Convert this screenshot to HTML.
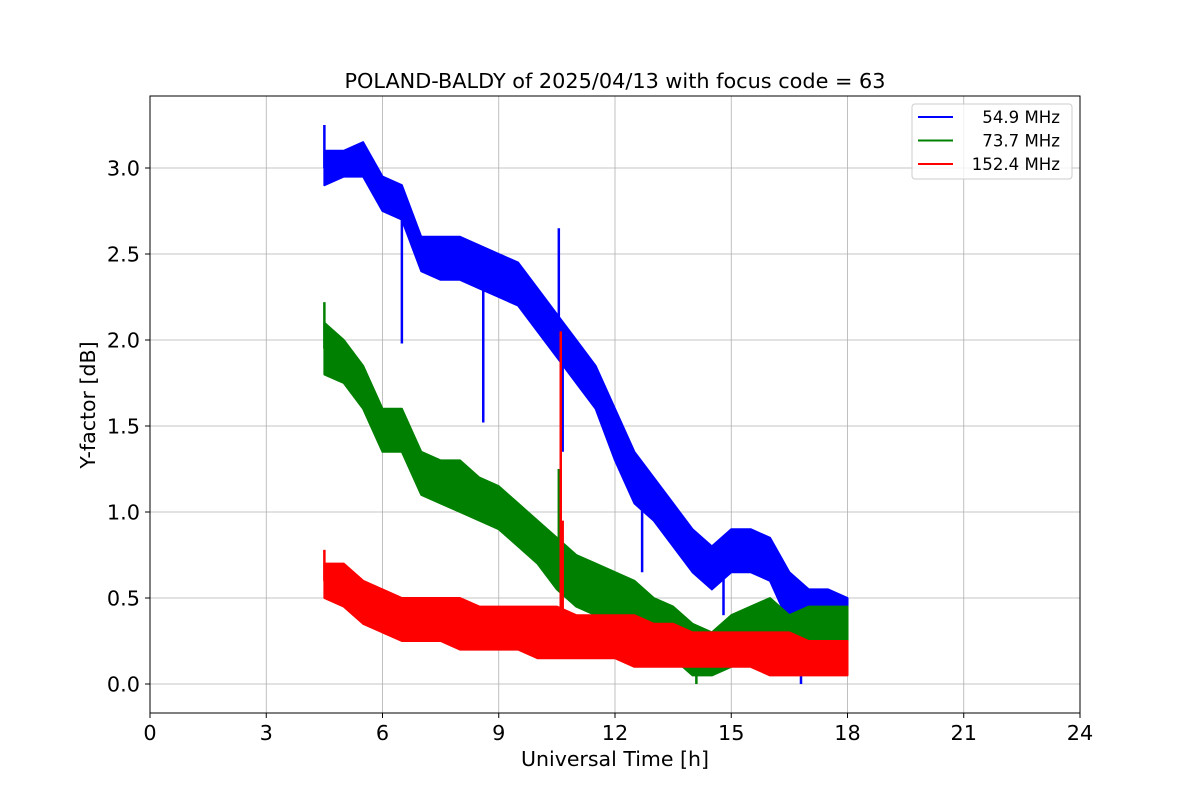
<!DOCTYPE html>
<html><head><meta charset="utf-8"><style>
body{margin:0;background:#fff;font-family:"Liberation Sans","DejaVu Sans",sans-serif}
svg text{font-family:"DejaVu Sans","Liberation Sans",sans-serif;fill:#000}
</style></head><body>
<svg id="chart" width="1200" height="800"></svg>
<script>
const times=[4.5,5,5.5,6,6.5,7,7.5,8,8.5,9,9.5,10,10.5,11,11.5,12,12.5,13,13.5,14,14.5,15,15.5,16,16.5,17,17.5,18];
const blueHi=[3.1,3.1,3.15,2.95,2.9,2.6,2.6,2.6,2.55,2.5,2.45,2.3,2.15,2.0,1.85,1.6,1.35,1.2,1.05,0.9,0.8,0.9,0.9,0.85,0.65,0.55,0.55,0.5];
const blueLo=[2.9,2.95,2.95,2.75,2.7,2.4,2.35,2.35,2.3,2.25,2.2,2.05,1.9,1.75,1.6,1.3,1.05,0.95,0.8,0.65,0.55,0.65,0.65,0.6,0.35,0.25,0.25,0.2];
const greenHi=[2.1,2.0,1.85,1.6,1.6,1.35,1.3,1.3,1.2,1.15,1.05,0.95,0.85,0.75,0.7,0.65,0.6,0.5,0.45,0.35,0.3,0.4,0.45,0.5,0.4,0.45,0.45,0.45];
const greenLo=[1.8,1.75,1.6,1.35,1.35,1.1,1.05,1.0,0.95,0.9,0.8,0.7,0.55,0.45,0.4,0.35,0.3,0.2,0.15,0.05,0.05,0.1,0.15,0.15,0.1,0.1,0.1,0.1];
const redHi=[0.7,0.7,0.6,0.55,0.5,0.5,0.5,0.5,0.45,0.45,0.45,0.45,0.45,0.4,0.4,0.4,0.4,0.35,0.35,0.3,0.3,0.3,0.3,0.3,0.3,0.25,0.25,0.25];
const redLo=[0.5,0.45,0.35,0.3,0.25,0.25,0.25,0.2,0.2,0.2,0.2,0.15,0.15,0.15,0.15,0.15,0.1,0.1,0.1,0.1,0.1,0.1,0.1,0.05,0.05,0.05,0.05,0.05];
const blueSpikeT=[4.5,6.5,8.6,10.55,10.65,12.7,14.8,16.8];
const blueSpikeV=[3.25,1.98,1.52,2.65,1.35,0.65,0.4,0.0];
const greenSpikeT=[4.5,10.55,10.6,14.1];
const greenSpikeV=[2.22,1.25,1.2,0.0];
const redSpikeT=[4.5,10.6,10.65];
const redSpikeV=[0.78,2.05,0.95];
const xTicks=[0,3,6,9,12,15,18,21,24];
const yTicks=[0,0.5,1,1.5,2,2.5,3];
const yLabels=["0.0","0.5","1.0","1.5","2.0","2.5","3.0"];
const legendLabels=["54.9 MHz","73.7 MHz","152.4 MHz"];

const L=150,R=1080,T=96,B=713;
const X=v=>L+(v/24)*(R-L);
const Y=v=>684-v*172;
const svg=document.getElementById('chart');
const NS='http://www.w3.org/2000/svg';
function mk(tag,attrs,parent){const e=document.createElementNS(NS,tag);for(const k in attrs)e.setAttribute(k,attrs[k]);(parent||svg).appendChild(e);return e;}

xTicks.forEach(t=>{
  const g=mk('line',{x1:X(t),x2:X(t),y1:T,y2:B,stroke:'#b0b0b0','stroke-width':0.8});
  
  
  const tk=mk('line',{x1:X(t),x2:X(t),y1:B,y2:B+5,stroke:'#000'});
  
  
  const tx=mk('text',{x:X(t),y:B+27,'font-size':20.8,'text-anchor':'middle'});
  tx.textContent=t;
  
  
});
yTicks.forEach((t,i)=>{
  const g=mk('line',{x1:L,x2:R,y1:Y(t),y2:Y(t),stroke:'#b0b0b0','stroke-width':0.8});
  
  
  const tk=mk('line',{x1:L-5,x2:L,y1:Y(t),y2:Y(t),stroke:'#000'});
  
  
  const tx=mk('text',{x:L-10,y:Y(t)+7.5,'font-size':20.8,'text-anchor':'end'});
  tx.textContent=yLabels[i];
  
  
});

function series(hi,lo,st,sv,color,name){
  let d='M'+times.map((t,i)=>X(t)+','+Y(hi[i])).join(' L');
  for(let i=times.length-1;i>=0;i--)d+=' L'+X(times[i])+','+Y(lo[i]);
  d+='Z';
  const p=mk('path',{d:d,fill:color,stroke:color,'stroke-width':2,'stroke-linejoin':'round'});
  
  
  st.forEach((t,i)=>{
    let k=0;while(k<times.length-1&&times[k+1]<=t)k++;
    const mid=(hi[k]+lo[k])/2;
    const s=mk('line',{x1:X(t),x2:X(t),y1:Y(mid),y2:Y(sv[i]),stroke:color,'stroke-width':2.5});
    
    
  });
}
series(blueHi,blueLo,blueSpikeT,blueSpikeV,'#0000ff','series-54-9mhz');
series(greenHi,greenLo,greenSpikeT,greenSpikeV,'#008000','series-73-7mhz');
series(redHi,redLo,redSpikeT,redSpikeV,'#ff0000','series-152-4mhz');

const fr=mk('rect',{x:L,y:T,width:R-L,height:B-T,fill:'none',stroke:'#000','stroke-width':1});



const title=mk('text',{x:(L+R)/2,y:88,'font-size':20.8,'text-anchor':'middle'});
title.textContent='POLAND-BALDY of 2025/04/13 with focus code = 63';


const xl=mk('text',{x:(L+R)/2,y:766,'font-size':20.5,'text-anchor':'middle'});
xl.textContent='Universal Time [h]';


const yl=mk('text',{x:0,y:0,'font-size':20.5,'text-anchor':'middle',transform:'translate(95,405) rotate(-90)'});
yl.textContent='Y-factor [dB]';



const lg=mk('rect',{x:912,y:104,width:160,height:75,rx:3,fill:'#fff','fill-opacity':0.8,stroke:'#ccc'});


const lc=['#0000ff','#008000','#ff0000'];
legendLabels.forEach((s,i)=>{
  const y=117+i*23.5;
  const ln=mk('line',{x1:918,x2:953,y1:y,y2:y,stroke:lc[i],'stroke-width':2});
  
  
  const t=mk('text',{x:1060,y:y+6,'font-size':16.6,'text-anchor':'end'});
  t.textContent=s;
  
  
});
</script>
</body></html>
